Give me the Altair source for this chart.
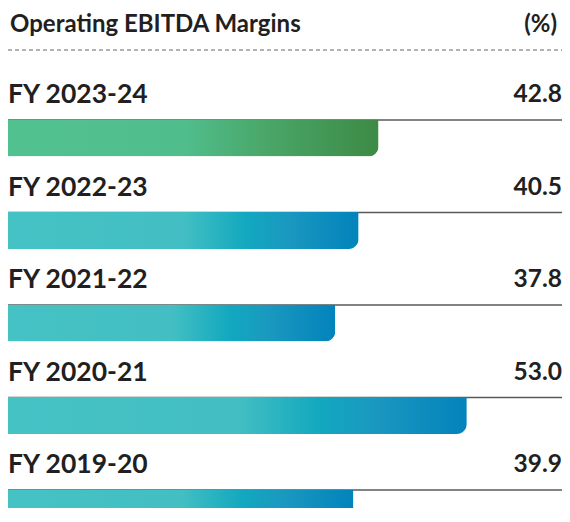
import altair as alt
import pandas as pd

years = ["FY 2023-24", "FY 2022-23", "FY 2021-22", "FY 2020-21", "FY 2019-20"]
values = [42.8, 40.5, 37.8, 53.0, 39.9]
title_text = "Operating EBITDA Margins"
unit_text = "(%)"

W, H = 554, 500
XMAX = 64.0
df = pd.DataFrame({"year": years, "value": values, "row": list(range(len(years)))})
df["latest"] = df["row"] == 0

FONT = "Lato"
TXT = "#231f20"

xs = alt.Scale(domain=[0, XMAX], range=[0, W], nice=False, zero=True, padding=0)
ys = alt.Scale(domain=[0, 4], range=[130, 500], nice=False, zero=False, padding=0)
X = alt.X("value:Q", scale=xs, axis=None)
Y = alt.Y("row:Q", scale=ys, axis=None)

green = alt.Gradient(
    gradient="linear", x1=0, x2=1, y1=0, y2=0,
    stops=[
        alt.GradientStop(color="#52c190", offset=0),
        alt.GradientStop(color="#50bd8c", offset=0.48),
        alt.GradientStop(color="#4aa86a", offset=0.68),
        alt.GradientStop(color="#3d8a45", offset=1),
    ],
)
blue = alt.Gradient(
    gradient="linear", x1=0, x2=1, y1=0, y2=0,
    stops=[
        alt.GradientStop(color="#45c2c4", offset=0),
        alt.GradientStop(color="#43bfc3", offset=0.5),
        alt.GradientStop(color="#12a8bf", offset=0.68),
        alt.GradientStop(color="#1a98c0", offset=0.8),
        alt.GradientStop(color="#0283bb", offset=1),
    ],
)

base = alt.Chart(df)

lines = base.mark_rule(color="#5a5a5a", strokeWidth=1.6, yOffset=-18).encode(
    x=alt.value(0), x2=alt.value(W), y=Y
)

bar_green = base.transform_filter("datum.latest").mark_bar(
    height=37, color=green, cornerRadiusBottomRight=10, orient="horizontal"
).encode(x=X, y=Y)

bar_blue = base.transform_filter("!datum.latest").mark_bar(
    height=37, color=blue, cornerRadiusBottomRight=10, orient="horizontal"
).encode(x=X, y=Y)

labels = base.mark_text(
    align="left", baseline="middle", font=FONT, fontSize=26.5, fontWeight="bold",
    color=TXT, yOffset=-43
).encode(x=alt.value(0), y=Y, text="year:N")

vals = base.mark_text(
    align="right", baseline="middle", font=FONT, fontSize=24.5, fontWeight="bold",
    color=TXT, yOffset=-43
).encode(x=alt.value(W), y=Y, text=alt.Text("value:Q", format=".1f"))

head = pd.DataFrame({"t": [title_text, unit_text]})
title_l = alt.Chart(head.iloc[[0]]).mark_text(
    align="left", baseline="middle", font=FONT, fontSize=24, fontWeight="bold", color=TXT
).encode(x=alt.value(2), y=alt.value(16.5), text="t:N")
title_r = alt.Chart(head.iloc[[1]]).mark_text(
    align="right", baseline="middle", font=FONT, fontSize=24, fontWeight="bold", color=TXT
).encode(x=alt.value(549), y=alt.value(16.5), text="t:N")

dash = alt.Chart(head.iloc[[0]]).mark_rule(
    color="#666666", strokeWidth=1.2, strokeDash=[4, 3]
).encode(x=alt.value(0), x2=alt.value(W), y=alt.value(42))

chart = alt.layer(
    lines, bar_green, bar_blue, labels, vals, title_l, title_r, dash
).properties(
    width=W, height=H, autosize=alt.AutoSizeParams(type="none"), padding=0
).configure_view(stroke=None)

chart.save("out.html", embed_options={"renderer": "svg", "actions": False})
